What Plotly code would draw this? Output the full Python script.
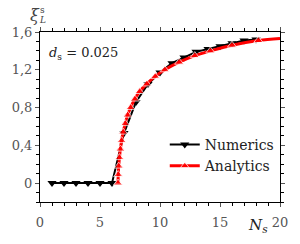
import plotly.graph_objects as go

# Numerics
num_x = [1, 2, 3, 4, 5, 6, 7, 8, 9, 10, 11, 12, 13, 14, 15, 16, 17, 18]
num_y = [0, 0, 0, 0, 0, 0, 0.53, 0.86, 1.05, 1.17, 1.27, 1.33, 1.39, 1.42, 1.45, 1.48, 1.51, 1.52]

# Analytics
ana_x = [6.5, 6.52, 6.56, 6.62, 6.70, 6.80, 6.93, 7.1, 7.3, 7.55, 7.9, 8.3, 8.9, 9.6,
         10.4, 11.6, 12.9, 14.2, 16.0, 18.2, 20.0]
ana_y = [0, 0.09, 0.18, 0.27, 0.36, 0.45, 0.54, 0.63, 0.72, 0.80, 0.89, 0.97, 1.05, 1.13,
         1.20, 1.28, 1.35, 1.40, 1.46, 1.51, 1.53]

W, H = 300, 244
L, R, T, B = 34, 14, 32, 42
pw, ph = W - L - R, H - T - B

def px(x):
    return (x - L) / pw

def py(y):
    return (H - B - y) / ph

SERIF = "DejaVu Serif"

fig = go.Figure()
fig.add_trace(go.Scatter(
    x=num_x, y=num_y, mode="lines+markers", name="Numerics",
    line=dict(color="black", width=2),
    marker=dict(symbol="triangle-down", size=8, color="black"),
))
fig.add_trace(go.Scatter(
    x=ana_x, y=ana_y, mode="lines+markers", name="Analytics",
    line=dict(color="red", width=3, shape="spline"),
    marker=dict(symbol="triangle-up", size=[8] * (len(ana_x) - 1) + [0], color="red"),
))

axis_common = dict(
    showline=True, linecolor="black", linewidth=1, mirror="ticks",
    ticks="outside", ticklen=4, tickcolor="#555", tickwidth=1,
    showgrid=False, zeroline=False,
    tickfont=dict(family=SERIF, size=13, color="#555"),
)
fig.update_xaxes(range=[0, 20], tick0=0, dtick=5,
                 minor=dict(dtick=1, ticks="outside", ticklen=3, tickcolor="black"),
                 ticklabelstandoff=4, **axis_common)
fig.update_yaxes(range=[-0.2, 1.6], tick0=0, dtick=0.4,
                 minor=dict(dtick=0.1, ticks="outside", ticklen=3, tickcolor="black"),
                 **axis_common)

def note(xp, yp, text, size, color="#444", xanchor="center"):
    return dict(x=px(xp), y=py(yp), text=text, showarrow=False,
                xanchor=xanchor, yanchor="middle",
                font=dict(family=SERIF, size=size, color=color),
                xref="paper", yref="paper")

ann = [
    note(29, 16, "<i>ξ</i>", 16),
    note(36.5, 10, "s", 9),
    note(37, 20, "<i>L</i>", 9),
    note(41, 53, "<i>d</i><sub>s</sub> = 0.025", 13, "#222", xanchor="left"),
    note(263, 225, "<i>N</i><sub><i>s</i></sub>", 15, "#222"),
]
fig.update_layout(
    width=W, height=H,
    margin=dict(l=L, r=R, t=T, b=B),
    paper_bgcolor="white", plot_bgcolor="white",
    separators=", ",
    showlegend=True,
    legend=dict(x=px(165), y=py(129), xanchor="left", yanchor="top",
                bgcolor="rgba(0,0,0,0)", font=dict(family=SERIF, size=14, color="#222"),
                tracegroupgap=0, itemwidth=30),
    annotations=ann,
)
fig.write_html("out.html", config={"displayModeBar": False},
               post_script="document.body.style.margin='0';document.body.style.padding='0';")
